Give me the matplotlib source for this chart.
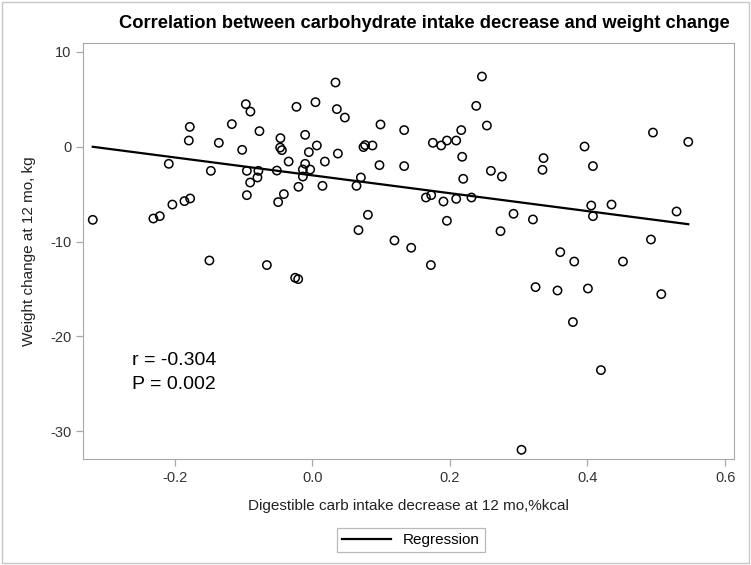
import numpy as np
from matplotlib import pyplot as plt
from matplotlib.patches import Rectangle

plt.rcParams['font.family'] = ['Liberation Sans', 'DejaVu Sans']
plt.rcParams['axes.unicode_minus'] = False

# carb intake decrease (fraction of kcal) vs weight change (kg)
carb_decrease = [
    -0.0964, -0.0897, -0.0228, -0.1778, -0.1167, -0.0766, -0.1792, -0.1356, -0.0461, -0.1017,
    -0.0465, -0.0440, -0.0342, -0.2083, -0.1472, -0.0949, -0.0781, -0.0513, -0.0795, -0.0901,
    -0.0199, 0.0339, 0.2467, 0.0048, 0.0359, 0.0475, 0.0993, 0.1337, 0.2384, 0.2539,
    0.2166, -0.0102, 0.0068, -0.0048, 0.0374, 0.0746, 0.0770, 0.0876, 0.1754, 0.1875,
    0.1958, 0.2093, 0.2180, 0.0185, -0.0102, -0.0135, -0.0029, -0.0135, 0.0978, 0.1337,
    0.0708, 0.2597, 0.2757, 0.2195, 0.0150, 0.0644, 0.4952, 0.5465, 0.3958, 0.3362,
    0.3347, 0.4080, -0.3188, -0.2307, -0.2214, -0.2031, -0.1856, -0.1773, -0.0949, -0.0494,
    -0.0411, -0.1493, -0.0658, -0.0247, -0.0203, 0.1653, 0.1730, 0.1908, 0.2093, 0.2315,
    0.0810, 0.0673, 0.1958, 0.2737, 0.1196, 0.1439, 0.1725, 0.2926, 0.3208, 0.4055,
    0.4080, 0.4350, 0.5295, 0.4923, 0.3605, 0.3808, 0.4516, 0.3246, 0.3565, 0.4007,
    0.5073, 0.3789, 0.4196, 0.3042,
]
weight_change = [
    4.46, 3.68, 4.18, 2.07, 2.36, 1.62, 0.63, 0.39, 0.88, -0.35,
    -0.11, -0.38, -1.58, -1.82, -2.56, -2.56, -2.56, -2.53, -3.26, -3.79,
    -4.24, 6.74, 7.37, 4.67, 3.94, 3.05, 2.32, 1.73, 4.28, 2.21,
    1.73, 1.23, 0.11, -0.59, -0.74, -0.06, 0.15, 0.11, 0.39, 0.11,
    0.63, 0.63, -1.08, -1.58, -1.82, -2.42, -2.42, -3.16, -1.96, -2.06,
    -3.26, -2.56, -3.16, -3.40, -4.14, -4.14, 1.47, 0.49, 0.00, -1.22,
    -2.45, -2.06, -7.72, -7.58, -7.33, -6.11, -5.75, -5.47, -5.12, -5.85,
    -5.01, -12.0, -12.48, -13.82, -13.96, -5.37, -5.12, -5.79, -5.51, -5.37,
    -7.19, -8.80, -7.82, -8.91, -9.89, -10.66, -12.48, -7.08, -7.68, -6.21,
    -7.33, -6.11, -6.84, -9.79, -11.12, -12.11, -12.11, -14.8, -15.16, -14.95,
    -15.54, -18.48, -23.54, -31.93,
]
reg_intercept = -3.03
reg_slope = -9.42
x_ticks = [-0.2, 0.0, 0.2, 0.4, 0.6]
y_ticks = [-30, -20, -10, 0, 10]
r_text = 'r = -0.304'
p_text = 'P = 0.002'

frame_grey = '#a8a8a8'

fig = plt.figure(figsize=(7.51, 5.65), dpi=100)
ax = fig.add_axes([0.1105, 0.1876, 0.8669, 0.7363])

ax.scatter(carb_decrease, weight_change, s=36, facecolors='none', edgecolors='black', linewidths=1.1, zorder=3)
reg_x = np.array([min(carb_decrease), max(carb_decrease)])
ax.plot(reg_x, reg_intercept + reg_slope * reg_x, color='black', linewidth=1.6, zorder=2)

ax.set_xlim(-0.333, 0.613)
ax.set_ylim(-32.9, 10.9)
ax.set_xticks(x_ticks)
ax.set_xticklabels(['%.1f' % t for t in x_ticks])
ax.set_yticks(y_ticks)
for spine in ax.spines.values():
    spine.set_color(frame_grey)
ax.tick_params(colors=frame_grey, labelcolor='#333333', labelsize=10.5, length=5, width=0.9)

ax.set_xlabel('Digestible carb intake decrease at 12 mo,%kcal', fontsize=11, color='#222222', labelpad=10)
ax.set_ylabel('Weight change at 12 mo, kg', fontsize=11, color='#222222', labelpad=10)

ax.text(0.075, 0.225, r_text, transform=ax.transAxes, fontsize=14, color='black')
ax.text(0.075, 0.168, p_text, transform=ax.transAxes, fontsize=14, color='black')

fig.text(424 / 751, 1 - 24 / 565, 'Correlation between carbohydrate intake decrease and weight change',
         ha='center', va='center', fontsize=13.2, fontweight='bold')

leg = fig.legend(handles=ax.lines, labels=['Regression'], loc='center', bbox_to_anchor=(411 / 751, 1 - 540 / 565),
                 fancybox=False, edgecolor=frame_grey, fontsize=11, handlelength=3.2, borderpad=0.3)
leg.get_frame().set_linewidth(0.9)

fig.patches.append(Rectangle((0.003, 0.004), 0.994, 0.992, transform=fig.transFigure, fill=False,
                             edgecolor='#c8c8c8', linewidth=1))

plt.savefig('out.png', dpi=100)
